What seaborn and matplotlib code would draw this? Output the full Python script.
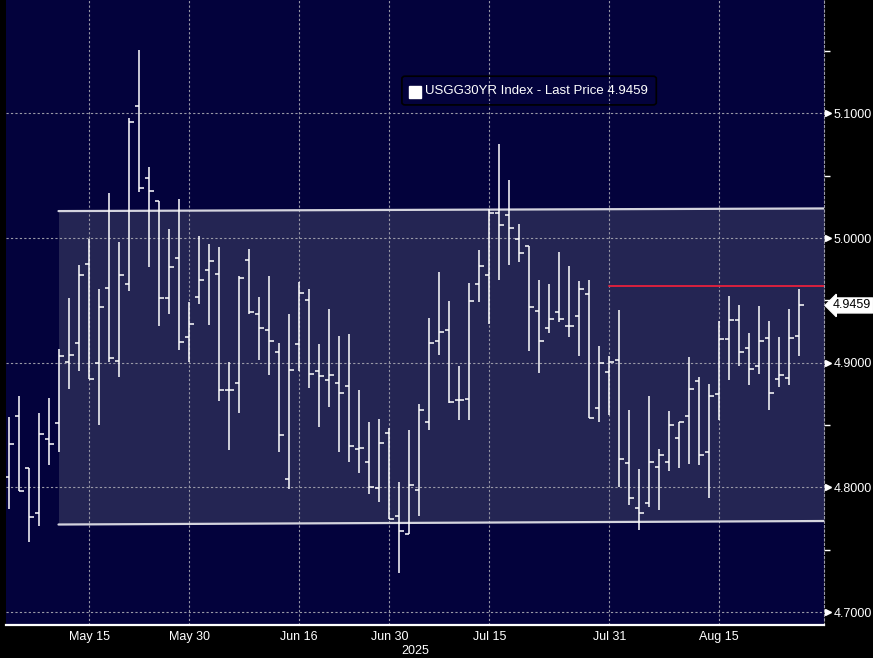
import numpy as np
import pandas as pd
import matplotlib
matplotlib.use('Agg')
import matplotlib.pyplot as plt
import matplotlib.transforms as mtransforms
from matplotlib.patches import FancyBboxPatch
import seaborn as sns

# Trading days (US bond market holidays removed)
holidays = ['2025-05-26', '2025-06-19', '2025-07-04']
dates = pd.bdate_range('2025-05-05', '2025-08-27', freq='C', holidays=holidays)

# USGG30YR daily OHLC
opens = [4.8080, 4.8569, 4.8152, 4.7793, 4.8384, 4.8517, 4.9003, 4.9155, 4.9790, 4.8994,
         4.9597, 4.9011, 4.9635, 5.1055, 5.0478, 5.0298, 4.9517, 4.9837, 4.9204, 4.9525,
         4.9740, 4.9710, 4.8779, 4.8834, 4.9820, 4.9387, 4.9260, 4.9083, 4.8064, 4.9146,
         4.9500, 4.8931, 4.8859, 4.8834, 4.8809, 4.8304, 4.8202, 4.7992, 4.8434, 4.7768,
         4.7624, 4.7975, 4.8522, 4.9171, 4.9260, 4.8699, 4.8707, 4.9635, 4.9702, 5.0199,
         5.0188, 4.9989, 4.9934, 4.9412, 4.9276, 4.9403, 4.9298, 4.9373, 4.9547, 4.8633,
         4.8923, 4.9019, 4.8193, 4.7831, 4.7873, 4.8163, 4.8202, 4.8392, 4.8569, 4.8851,
         4.8285, 4.8749, 4.9188, 4.9340, 4.9116, 4.8972, 4.9196, 4.8867, 4.8881, 4.9213]
highs = [4.8564, 4.8732, 4.8152, 4.8597, 4.8715, 4.9110, 4.9519, 4.9785, 4.9992, 4.9591,
         5.0362, 4.9967, 5.0964, 5.1506, 5.0569, 5.0298, 5.0072, 5.0312, 4.9489, 5.0017,
         4.9953, 4.9928, 4.9003, 4.9693, 4.9912, 4.9528, 4.9693, 4.9157, 4.9390, 4.9646,
         4.9591, 4.9149, 4.9431, 4.9215, 4.9229, 4.8782, 4.8525, 4.8547, 4.8475, 4.8044,
         4.8461, 4.8669, 4.9359, 4.9727, 4.9494, 4.8972, 4.9638, 4.9903, 5.0235, 5.0754,
         5.0464, 5.0113, 4.9934, 4.9660, 4.9630, 4.9884, 4.9773, 4.9655, 4.9663, 4.9133,
         4.9052, 4.9423, 4.8622, 4.8146, 4.8732, 4.8307, 4.8613, 4.8522, 4.9047, 4.8884,
         4.8831, 4.9337, 4.9536, 4.9464, 4.9238, 4.9456, 4.9334, 4.9207, 4.9431, 4.9591]
lows = [4.7826, 4.7970, 4.7564, 4.7693, 4.8182, 4.8287, 4.8785, 4.8936, 4.8867, 4.8503,
        4.9008, 4.8887, 4.9577, 5.0373, 4.9771, 4.9293, 4.9392, 4.9105, 4.9003, 4.9467,
        4.9304, 4.8696, 4.8301, 4.8599, 4.9392, 4.9025, 4.8903, 4.8287, 4.7989, 4.8936,
        4.8793, 4.8486, 4.8646, 4.8287, 4.8207, 4.8119, 4.7950, 4.7884, 4.7743, 4.7312,
        4.7624, 4.7771, 4.8464, 4.9064, 4.8674, 4.8544, 4.8544, 4.9489, 4.9307, 4.9666,
        4.9787, 4.9809, 4.9097, 4.8914, 4.9240, 4.9323, 4.9202, 4.9050, 4.8558, 4.8528,
        4.8583, 4.8003, 4.7862, 4.7660, 4.7845, 4.7820, 4.8135, 4.8157, 4.8191, 4.8182,
        4.7917, 4.8541, 4.8865, 4.8975, 4.8823, 4.8912, 4.8624, 4.8801, 4.8823, 4.9050]
closes = [4.8345, 4.7970, 4.7765, 4.8425, 4.8345, 4.9052, 4.9058, 4.9702, 4.8867, 4.9445,
          4.9036, 4.9702, 5.0928, 5.0398, 5.0376, 4.9517, 4.9765, 4.9163, 4.9307, 4.9660,
          4.9812, 4.8779, 4.8779, 4.9677, 4.9403, 4.9276, 4.9171, 4.8417, 4.8939, 4.9555,
          4.8906, 4.8890, 4.8898, 4.8754, 4.8329, 4.8312, 4.8000, 4.8354, 4.7743, 4.7646,
          4.8017, 4.8619, 4.9155, 4.9243, 4.8682, 4.8699, 4.9492, 4.9773, 5.0199, 5.0108,
          5.0077, 4.9878, 4.9445, 4.9171, 4.9348, 4.9348, 4.9298, 4.9588, 4.8558, 4.8994,
          4.9003, 4.8224, 4.7912, 4.7798, 4.8202, 4.8262, 4.8497, 4.8522, 4.8787, 4.8257,
          4.8729, 4.9188, 4.9340, 4.9083, 4.8948, 4.9171, 4.8754, 4.8901, 4.9196, 4.9459]

last_price = 4.9459

# Trend channel and resistance level drawn on the chart
channel_x = [4.92, 81.47]
channel_top = [5.0216, 5.0237]
channel_bot = [4.7702, 4.7730]
red_x = [60, 81.47]
red_level = [4.9613, 4.9613]

# Axis ticks
major_dates = ['2025-05-15', '2025-05-30', '2025-06-16', '2025-06-30',
               '2025-07-15', '2025-07-31', '2025-08-15']
major_labels = ['May 15', 'May 30', 'Jun 16', 'Jun 30', 'Jul 15', 'Jul 31', 'Aug 15']
minor_dates = ['2025-05-07', '2025-05-22', '2025-06-09', '2025-06-23',
               '2025-07-08', '2025-07-23', '2025-08-08', '2025-08-22']
y_major = [4.7, 4.8, 4.9, 5.0, 5.1]
y_minor = [4.75, 4.85, 4.95, 5.05, 5.15]

df = pd.DataFrame({'date': dates, 'open': opens, 'high': highs,
                   'low': lows, 'close': closes})
df['x'] = np.arange(len(df))

bg = '#03023c'
sns.set_theme(style='dark', rc={'axes.facecolor': bg, 'figure.facecolor': 'black'})
plt.rcParams['font.family'] = ['Liberation Sans', 'DejaVu Sans']

fig = plt.figure(figsize=(8.73, 6.58), dpi=100)
ax = fig.add_axes([6 / 873, 33.5 / 658, 818 / 873, 624.5 / 658])
ax.set_facecolor(bg)

# channel
ax.fill_between(channel_x, channel_bot, channel_top, color='#242553', lw=0, zorder=1)
sns.lineplot(x=channel_x, y=channel_top, ax=ax, color='#d4d4de', lw=1.6, zorder=3)
sns.lineplot(x=channel_x, y=channel_bot, ax=ax, color='#d4d4de', lw=1.6, zorder=3)
sns.lineplot(x=red_x, y=red_level, ax=ax, color='#e8203c', lw=1.3, zorder=3)

# OHLC bars
tick = 0.42
ax.vlines(df['x'], df['low'], df['high'], color='white', lw=1.1, zorder=4)
ax.hlines(df['open'], df['x'] - tick, df['x'], color='white', lw=1.1, zorder=4)
ax.hlines(df['close'], df['x'], df['x'] + tick, color='white', lw=1.1, zorder=4)

ax.set_xlim(-0.33, 81.47)
ax.set_ylim(4.6900, 5.1909)
ax.set_xlabel('')
ax.set_ylabel('')

major_idx = [df.index[df['date'] == pd.Timestamp(d)][0] for d in major_dates]
minor_idx = [df.index[df['date'] == pd.Timestamp(d)][0] for d in minor_dates]
ax.set_xticks(major_idx, major_labels)
ax.set_xticks(minor_idx, minor=True)
ax.yaxis.tick_right()
ax.set_yticks(y_major, [f'{v:.4f}' for v in y_major])
ax.set_yticks(y_minor, minor=True)

ax.tick_params(axis='x', which='major', length=0, pad=5, labelcolor='white', labelsize=9)
ax.tick_params(axis='x', which='minor', length=4, width=1, color='white', direction='out')
ax.tick_params(axis='y', which='major', length=0, pad=7, labelcolor='white', labelsize=9)
ax.tick_params(axis='y', which='minor', length=4, width=1, color='white', direction='out')

ax.set_axisbelow('line')
ax.grid(True, which='major', color='#9a9aa8', linestyle=(0, (2, 2)), lw=0.8)

for side in ['top', 'left']:
    ax.spines[side].set_visible(False)
ax.spines['bottom'].set_color('white')
ax.spines['bottom'].set_linewidth(1.6)
ax.spines['right'].set_color('#9a9aa8')
ax.spines['right'].set_linestyle((0, (2, 2)))
ax.spines['right'].set_linewidth(0.8)

# right-hand price markers
trans = mtransforms.blended_transform_factory(ax.transAxes, ax.transData)
ax.plot([1.005] * len(y_major), y_major, '>', ms=4.5, color='white',
        transform=trans, clip_on=False, zorder=5)
ax.text(1.011, last_price, f'{last_price:.4f}', transform=trans, ha='left', va='center',
        fontsize=9, color='black', zorder=6,
        bbox=dict(boxstyle='larrow,pad=0.12', fc='white', ec='white'))

# legend box
ax.add_patch(FancyBboxPatch((0.484, 0.832), 0.311, 0.046, transform=ax.transAxes,
                            boxstyle='round,pad=0,rounding_size=0.004',
                            fc='none', ec='black', lw=1.2, zorder=5))
ax.plot([0.5006], [0.852], 's', ms=8, color='white', transform=ax.transAxes, zorder=6)
ax.text(0.512, 0.854, f'USGG30YR Index - Last Price {last_price:.4f}',
        transform=ax.transAxes, ha='left', va='center', fontsize=9.5, color='white', zorder=6)

fig.text(415 / 873, 1 - 651 / 658, '2025', ha='center', va='center', fontsize=9, color='white')

fig.savefig('out.png', dpi=100, facecolor=fig.get_facecolor())
